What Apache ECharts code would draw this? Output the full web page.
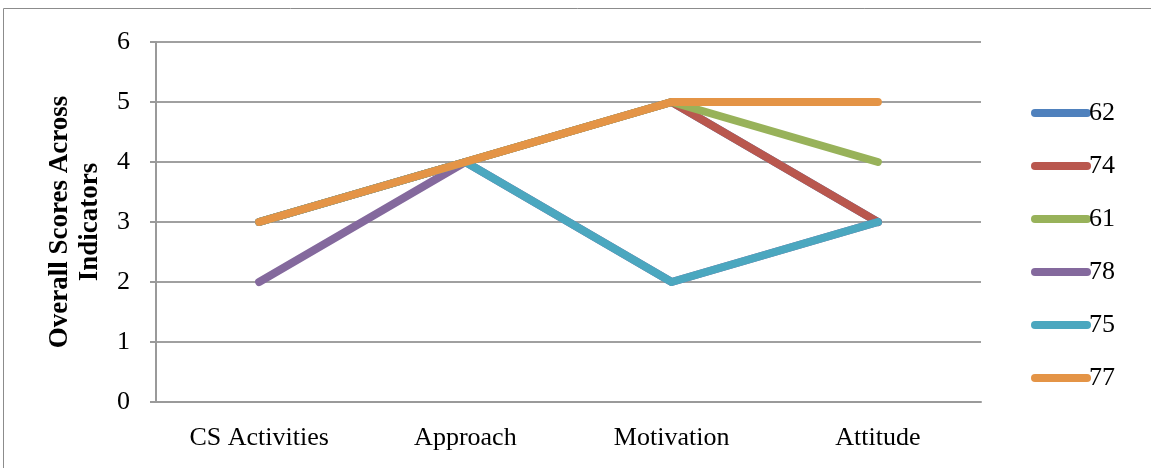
<!DOCTYPE html>
<html>
<head>
<meta charset="utf-8">
<script src="https://cdn.jsdelivr.net/npm/echarts@6/dist/echarts.min.js"></script>
<style>
  html, body { margin: 0; padding: 0; background: #fff; }
  #chart { width: 1151px; height: 468px; }
</style>
</head>
<body>
<div id="chart"></div>
<script>
const categories = ['CS Activities', 'Approach', 'Motivation', 'Attitude'];
const seriesNames = ['62', '74', '61', '78', '75', '77'];
const s62 = [3, 4, 5, 3];
const s74 = [3, 4, 5, 3];
const s61 = [3, 4, 5, 4];
const s78 = [2, 4, 2, 3];
const s75 = [3, 4, 2, 3];
const s77 = [3, 4, 5, 5];
const yTicks = [0, 1, 2, 3, 4, 5, 6];

const colors = ['#4F81BD', '#B9574E', '#98B25A', '#84699D', '#4BA7BF', '#E49446'];
const values = [s62, s74, s61, s78, s75, s77];

const serif = '"Liberation Serif", "DejaVu Serif", serif';

const chart = echarts.init(document.getElementById('chart'));

const option = {
  animation: false,
  color: colors,
  textStyle: { fontFamily: serif },
  graphic: [{
    type: 'rect',
    silent: true,
    shape: { x: 3.5, y: 8.5, width: 1200, height: 500 },
    style: { fill: 'none', stroke: '#8c8c8c', lineWidth: 1 }
  }],
  grid: {
    left: 156,
    right: 170,
    top: 42,
    bottom: 66
  },
  legend: {
    orient: 'vertical',
    left: 1026,
    top: 95,
    itemWidth: 60,
    itemHeight: 9,
    itemGap: 27,
    icon: 'path://M4,0 H56 A4,4 0 0 1 56,8 H4 A4,4 0 0 1 4,0 Z',
    textStyle: { fontFamily: serif, fontSize: 26, color: '#000', padding: [0, 0, 0, -7] },
    data: seriesNames
  },
  xAxis: {
    type: 'category',
    data: categories,
    boundaryGap: true,
    axisLine: { lineStyle: { color: '#9a9a9a', width: 2 } },
    axisTick: { show: false },
    axisLabel: { color: '#000', fontSize: 26, fontFamily: serif, margin: 23 }
  },
  yAxis: {
    type: 'value',
    min: yTicks[0],
    max: yTicks[yTicks.length - 1],
    interval: 1,
    name: 'Overall Scores Across\nIndicators',
    nameLocation: 'middle',
    nameGap: 51,
    nameTextStyle: { fontFamily: serif, fontSize: 27, fontWeight: 'bold', color: '#000', lineHeight: 30 },
    axisLine: { show: true, lineStyle: { color: '#9a9a9a', width: 2 } },
    axisTick: { show: true, length: 6, lineStyle: { color: '#9a9a9a', width: 2 } },
    axisLabel: { color: '#000', fontSize: 26, fontFamily: serif, margin: 26 },
    splitLine: { lineStyle: { color: '#a0a0a0', width: 2 } }
  },
  series: seriesNames.map((name, i) => ({
    name: name,
    type: 'line',
    data: values[i],
    showSymbol: false,
    symbol: 'none',
    lineStyle: { width: 8, color: colors[i], cap: 'round', join: 'round' },
    itemStyle: { color: colors[i] }
  }))
};

chart.setOption(option);
</script>
</body>
</html>
